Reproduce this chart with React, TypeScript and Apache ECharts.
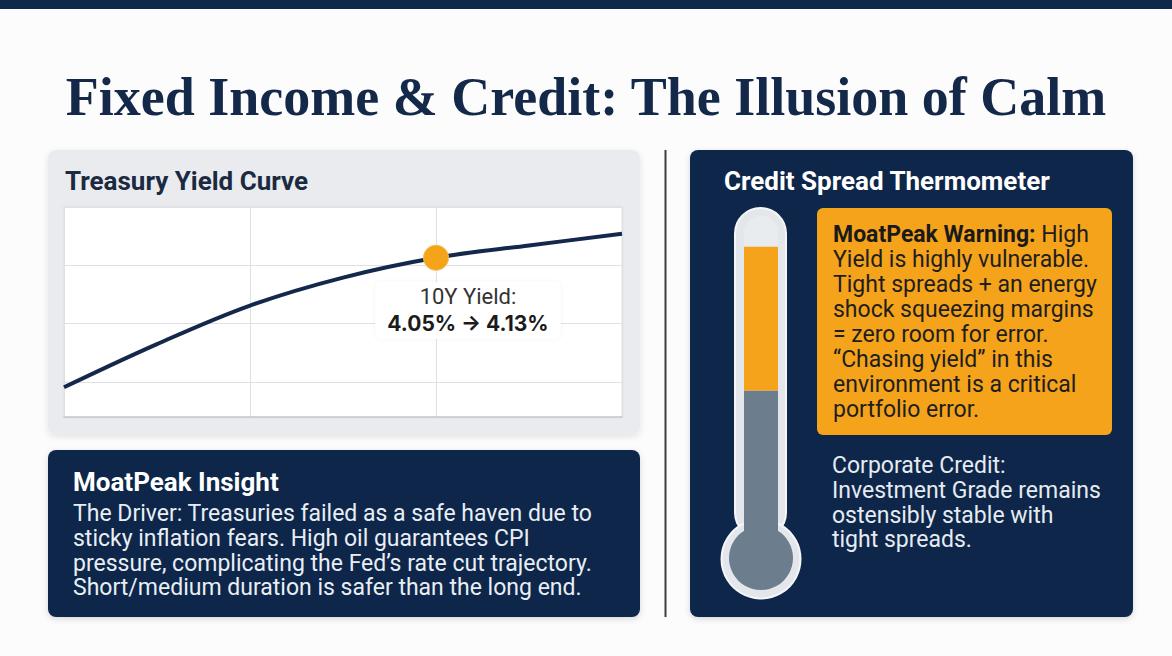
import React, { useEffect, useRef } from "react";
import * as echarts from "echarts";

// ---------- data ----------
const maturities = ["3M", "1Y", "2Y", "5Y", "10Y", "20Y", "30Y"];
const yields = [1.91, 2.65, 3.31, 3.79, 4.13, 4.34, 4.54];
const highlightMaturity = "10Y";
const prevYield = 4.05;
const currYield = 4.13;
const yMin = 1.4;
const yMax = 5;

const thermoCategories = ["Credit spreads"];
const investmentGrade = [49];
const highYield = [42];
const thermoMax = 100;

// ---------- texts ----------
const titleText = "Fixed Income & Credit: The Illusion of Calm";
const curveTitle = "Treasury Yield Curve";
const thermoTitle = "Credit Spread Thermometer";
const insightTitle = "MoatPeak Insight";
const insightLines = [
  "The Driver: Treasuries failed as a safe haven due to",
  "sticky inflation fears. High oil guarantees CPI",
  "pressure, complicating the Fed\u2019s rate cut trajectory.",
  "Short/medium duration is safer than the long end.",
];
const warningLead = "MoatPeak Warning:";
const warningLines = [
  " High",
  "Yield is highly vulnerable.",
  "Tight spreads + an energy",
  "shock squeezing margins",
  "= zero room for error.",
  "\u201CChasing yield\u201D in this",
  "environment is a critical",
  "portfolio error.",
];
const corporateLines = [
  "Corporate Credit:",
  "Investment Grade remains",
  "ostensibly stable with",
  "tight spreads.",
];

const SANS = "Roboto, 'Noto Sans', Arial, sans-serif";
const ARROW_SANS = "Inter, Roboto, 'Noto Sans', sans-serif";
const SERIF = "'Liberation Serif', 'DejaVu Serif', serif";
const NAVY = "#11284a";
const ORANGE = "#f5a31a";
const STEEL = "#6c7d8e";

export default function App() {
  const ref = useRef<HTMLDivElement>(null);

  useEffect(() => {
    if (!ref.current) return;
    const chart = echarts.init(ref.current, undefined, { renderer: "svg" });

    const warningText =
      "{b|" + warningLead + "}" + warningLines[0] + "\n" + warningLines.slice(1).join("\n");

    const option: any = {
      animation: false,
      backgroundColor: "#fcfcfc",
      grid: [
        { left: 64, top: 207, width: 558, height: 210, containLabel: false },
        { left: 744, top: 216, width: 34, height: 342, containLabel: false },
      ],
      xAxis: [
        {
          gridIndex: 0,
          type: "category",
          data: maturities,
          boundaryGap: false,
          axisLine: { show: true, lineStyle: { color: "#c3c8cf", width: 1.5 } },
          axisTick: { show: false },
          axisLabel: { show: false },
          splitLine: { show: true, interval: 1, lineStyle: { color: "#dde1e6", width: 1 } },
        },
        {
          gridIndex: 1,
          type: "category",
          data: thermoCategories,
          show: false,
        },
      ],
      yAxis: [
        {
          gridIndex: 0,
          type: "value",
          min: yMin,
          max: yMax,
          minInterval: 1,
          maxInterval: 1,
          axisLine: { show: false },
          axisTick: { show: false },
          axisLabel: { show: false },
          splitLine: { show: true, lineStyle: { color: "#dde1e6", width: 1 } },
        },
        {
          gridIndex: 1,
          type: "value",
          min: 0,
          max: thermoMax,
          show: false,
          splitLine: { show: false },
        },
      ],
      series: [
        {
          type: "line",
          xAxisIndex: 0,
          yAxisIndex: 0,
          data: yields,
          smooth: 0.35,
          symbol: "none",
          lineStyle: { color: "#13284a", width: 4 },
          z: 3,
        },
        {
          type: "scatter",
          xAxisIndex: 0,
          yAxisIndex: 0,
          data: [[highlightMaturity, currYield]],
          symbolSize: 25,
          itemStyle: { color: ORANGE, opacity: 1, borderColor: "#f7bb4a", borderWidth: 1 },
          z: 4,
          label: {
            show: true,
            position: "bottom",
            distance: 11,
            offset: [32, 0],
            formatter:
              "{a|" + highlightMaturity + " Yield:}\n{b|" +
              prevYield.toFixed(2) + "% \u2192 " + currYield.toFixed(2) + "%}",
            backgroundColor: "rgba(255,255,255,0.97)",
            borderRadius: 6,
            padding: [2, 12, 2, 12],
            shadowBlur: 4,
            shadowColor: "rgba(0,0,0,0.06)",
            rich: {
              a: { fontFamily: SANS, fontSize: 22, color: "#333333", lineHeight: 26, align: "center" },
              b: { fontFamily: ARROW_SANS, fontSize: 21, fontWeight: "bold", color: "#1b1b1b", lineHeight: 27, align: "center" },
            },
          },
        },
        {
          type: "bar",
          name: "Investment Grade",
          xAxisIndex: 1,
          yAxisIndex: 1,
          stack: "heat",
          data: investmentGrade,
          barWidth: 34,
          itemStyle: { color: STEEL },
          z: 3,
        },
        {
          type: "bar",
          name: "High Yield",
          xAxisIndex: 1,
          yAxisIndex: 1,
          stack: "heat",
          data: highYield,
          barWidth: 34,
          itemStyle: { color: ORANGE },
          z: 3,
        },
      ],
      graphic: {
        elements: [
          // top bar
          { type: "rect", z: -20, silent: true, shape: { x: 0, y: 0, width: 1172, height: 9 }, style: { fill: "#10294a" } },
          // title
          {
            type: "text", z: 10, silent: true,
            style: { x: 586, y: 97, text: titleText, font: "bold 54px " + SERIF, fill: "#14294a", align: "center", verticalAlign: "middle" },
          },
          // left top card
          {
            type: "rect", z: -20, silent: true,
            shape: { x: 48, y: 150, width: 592, height: 285, r: 8 },
            style: { fill: "#e9ebee", shadowBlur: 6, shadowColor: "rgba(0,0,0,0.10)", shadowOffsetY: 2 },
          },
          {
            type: "rect", z: -15, silent: true,
            shape: { x: 64, y: 207, width: 558, height: 210 },
            style: { fill: "#ffffff", stroke: "#e0e3e7", lineWidth: 1, shadowBlur: 3, shadowColor: "rgba(0,0,0,0.06)" },
          },
          {
            type: "text", z: 10, silent: true,
            style: { x: 65, y: 181, text: curveTitle, font: "bold 26px " + SANS, fill: "#1b2a41", align: "left", verticalAlign: "middle" },
          },
          // left bottom card
          {
            type: "rect", z: -20, silent: true,
            shape: { x: 48, y: 450, width: 592, height: 167, r: 8 },
            style: { fill: NAVY, shadowBlur: 6, shadowColor: "rgba(0,0,0,0.15)", shadowOffsetY: 2 },
          },
          {
            type: "text", z: 10, silent: true,
            style: { x: 73, y: 482, text: insightTitle, font: "bold 26px " + SANS, fill: "#ffffff", align: "left", verticalAlign: "middle" },
          },
          {
            type: "text", z: 10, silent: true,
            style: {
              x: 73, y: 501.5, text: insightLines.join("\n"), font: "23px " + SANS, lineHeight: 24.7,
              fill: "#e9eef5", align: "left", verticalAlign: "top",
            },
          },
          // divider
          {
            type: "line", z: -20, silent: true,
            shape: { x1: 665.5, y1: 150, x2: 665.5, y2: 617 },
            style: { stroke: "#3c3c3c", lineWidth: 2 },
          },
          // right card
          {
            type: "rect", z: -20, silent: true,
            shape: { x: 690, y: 150, width: 443, height: 467, r: 8 },
            style: { fill: NAVY, shadowBlur: 6, shadowColor: "rgba(0,0,0,0.15)", shadowOffsetY: 2 },
          },
          {
            type: "text", z: 10, silent: true,
            style: { x: 724, y: 181, text: thermoTitle, font: "bold 26px " + SANS, fill: "#ffffff", align: "left", verticalAlign: "middle" },
          },
          // warning box
          {
            type: "rect", z: -15, silent: true,
            shape: { x: 817, y: 208, width: 295, height: 227, r: 6 },
            style: { fill: ORANGE },
          },
          {
            type: "text", z: 10, silent: true,
            style: {
              x: 833, y: 221.5, text: warningText, font: "23px " + SANS, lineHeight: 25,
              fill: "#1e1e1e", align: "left", verticalAlign: "top",
              rich: { b: { font: "bold 23px " + SANS, fill: "#1a1a1a", lineHeight: 25 } },
            },
          },
          {
            type: "text", z: 10, silent: true,
            style: {
              x: 832, y: 453.5, text: corporateLines.join("\n"), font: "23px " + SANS, lineHeight: 24.7,
              fill: "#e6ebf1", align: "left", verticalAlign: "top",
            },
          },
          // thermometer tube
          {
            type: "rect", z: -15, silent: true,
            shape: { x: 735, y: 208, width: 51, height: 330, r: 25.5 },
            style: { fill: "#e3e7eb", stroke: "#f4f6f8", lineWidth: 2 },
          },
          {
            type: "rect", z: -14, silent: true,
            shape: { x: 744, y: 216, width: 34, height: 320, r: [17, 17, 0, 0] },
            style: { fill: "#e9ecef" },
          },
          // bulb
          {
            type: "circle", z: 5, silent: true,
            shape: { cx: 761, cy: 559, r: 39.5 },
            style: { fill: "#e3e7eb", stroke: "#f4f6f8", lineWidth: 2 },
          },
          {
            type: "rect", z: 6, silent: true,
            shape: { x: 744, y: 505, width: 34, height: 50 },
            style: { fill: STEEL },
          },
          {
            type: "circle", z: 6, silent: true,
            shape: { cx: 761, cy: 558, r: 32 },
            style: { fill: STEEL },
          },
        ],
      },
    };

    chart.setOption(option);
    return () => chart.dispose();
  }, []);

  return (
    <div
      ref={ref}
      style={{ position: "fixed", left: 0, top: 0, width: 1172, height: 656 }}
    />
  );
}
